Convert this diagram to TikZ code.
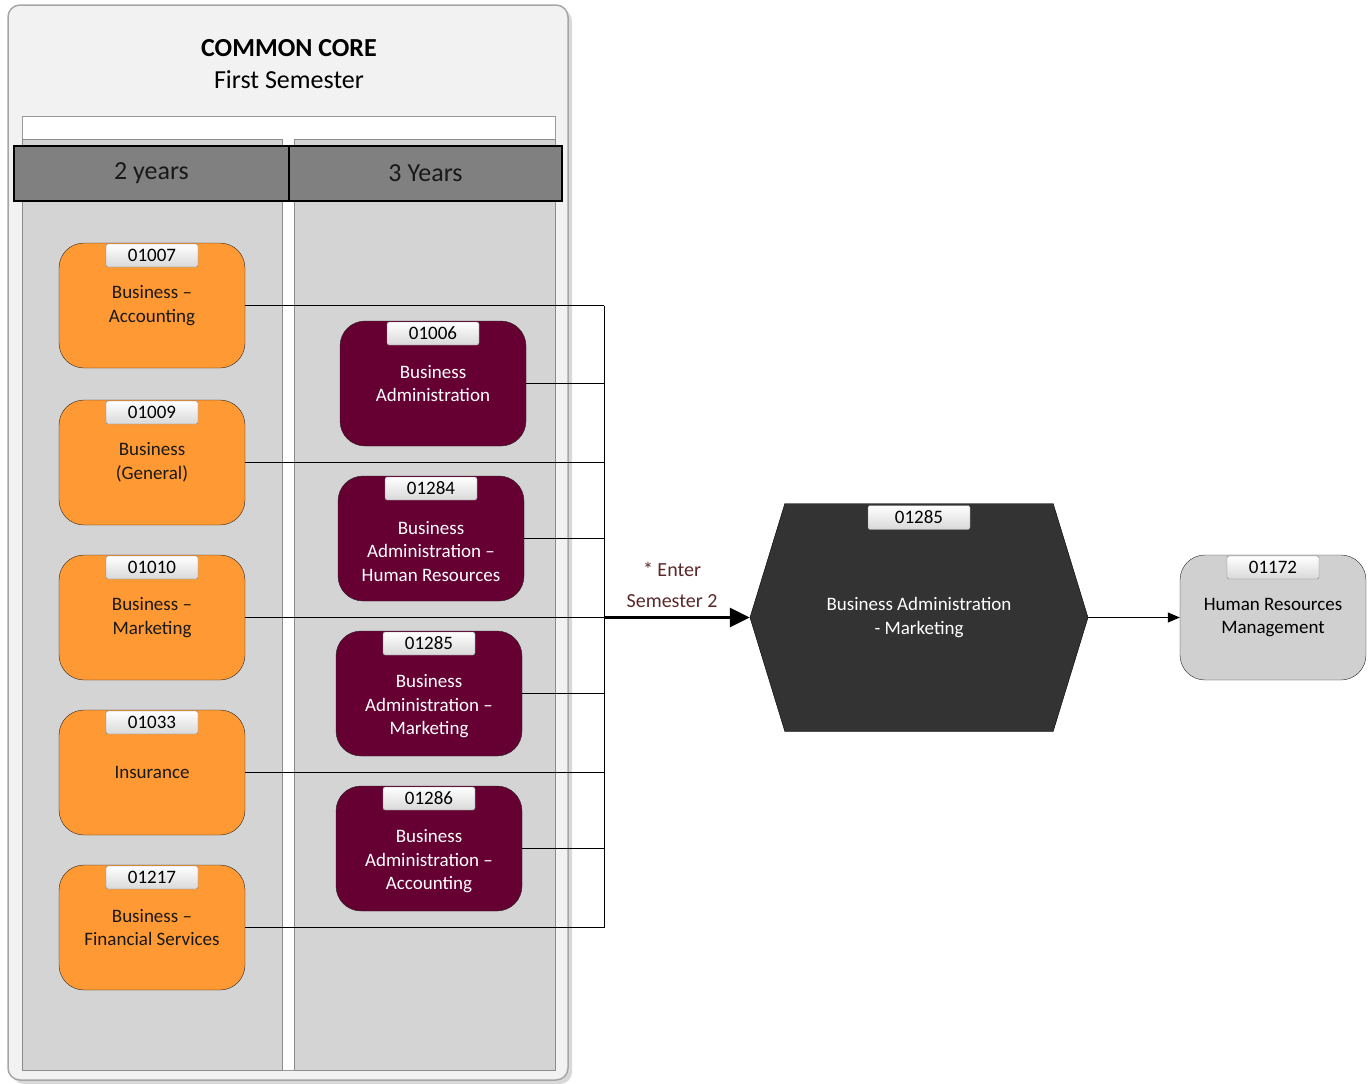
\documentclass[tikz,border=0pt]{standalone}
\usepackage{fontspec}
\setmainfont{Carlito}
\usetikzlibrary{shapes.symbols,arrows.meta}

\definecolor{orangebox}{HTML}{FF9933}
\definecolor{maroonbox}{HTML}{660033}
\definecolor{lanegray}{HTML}{D4D4D4}
\definecolor{headgray}{HTML}{808080}
\definecolor{coregray}{HTML}{F2F2F2}
\definecolor{hexgray}{HTML}{333333}
\definecolor{hrgray}{HTML}{D0D0D0}
\definecolor{notecolor}{HTML}{5A2828}

\tikzstyle{lane}=[draw=gray!90, fill=lanegray]
\tikzstyle{header}=[draw=black, line width=1.2, fill=headgray, minimum height=55, inner sep=0, font=\fontsize{26}{30}\selectfont, text=black!90]
\tikzstyle{course}=[draw=black!85, rounded corners=25, minimum width=186, minimum height=125, inner sep=0, align=center, font=\fontsize{19}{23.5}\selectfont]
\tikzstyle{twoyear}=[course, fill=orangebox, text=black!90]
\tikzstyle{threeyear}=[course, fill=maroonbox]
\tikzstyle{threetext}=[align=center, text=white, font=\fontsize{19}{23.5}\selectfont]
\tikzstyle{tab}=[draw=gray, rounded corners=2, top color=white, bottom color=gray!30, minimum width=92, minimum height=23, inner sep=0, anchor=north, text=black, font=\fontsize{19}{20}\selectfont]
\tikzstyle{link}=[black, line width=1]
\tikzstyle{arrow}=[link, -{Triangle[length=12pt, width=10pt]}]
\tikzstyle{bigarrow}=[black, line width=3, -{Triangle[length=20pt, width=19pt]}]

\begin{document}
\begin{tikzpicture}[x=1pt, y=-1pt]
    \useasboundingbox (0,0) rectangle (1371,1084);

    \fill[gray!30, rounded corners=12] (12,9) rectangle (572,1084);
    \draw[gray!70, fill=coregray, line width=1.5, rounded corners=12] (8,5) rectangle (568,1080);
    \node[font=\fontsize{26}{30}\selectfont\bfseries] (core) at (289,48) {COMMON CORE};
    \node[font=\fontsize{26}{30}\selectfont] (sem) at (289,80) {First Semester};

    \draw[gray!80, fill=white] (22,116) rectangle (555,1070);
    \draw[lane] (22,139) rectangle (282,1070);
    \draw[lane] (294,139) rectangle (555,1070);
    \node[header, minimum width=275] (two) at (151.5,173.5) {\raisebox{-2pt}{2 years}};
    \node[header, minimum width=273] (three) at (425.5,173.5) {3 Years};

    \node[twoyear] (acc) at (152,305.5) {Business --\\Accounting};
    \node[twoyear] (gen) at (152,462.5) {Business\\(General)};
    \node[twoyear] (mkt) at (152,617.5) {Business --\\Marketing};
    \node[twoyear] (ins) at (152,772.5) {Insurance};
    \node[twoyear] (fin) at (152,927.5) {Business --\\Financial Services};
    \node[tab] (acc-tab) at ([yshift=-1]acc.north) {01007};
    \node[tab] (gen-tab) at ([yshift=-1]gen.north) {01009};
    \node[tab] (mkt-tab) at ([yshift=-1]mkt.north) {01010};
    \node[tab] (ins-tab) at ([yshift=-1]ins.north) {01033};
    \node[tab] (fin-tab) at ([yshift=-1]fin.north) {01217};

    \node[threeyear, text=white] (adm) at (433,383.5) {Business\\Administration};
    \node[threeyear] (hr) at (431,538.5) {};
    \node[threeyear] (bam) at (429,693.5) {};
    \node[threeyear] (baa) at (429,848.5) {};
    \node[threetext] (hr-txt) at ([yshift=-13]hr.center) {Business\\Administration --\\Human Resources};
    \node[threetext] (bam-txt) at ([yshift=-13]bam.center) {Business\\Administration --\\Marketing};
    \node[threetext] (baa-txt) at ([yshift=-13]baa.center) {Business\\Administration --\\Accounting};
    \node[tab] (adm-tab) at ([yshift=-1]adm.north) {01006};
    \node[tab] (hr-tab) at ([yshift=-1]hr.north) {01284};
    \node[tab] (bam-tab) at ([yshift=-1]bam.north) {01285};
    \node[tab] (baa-tab) at ([yshift=-1]baa.north) {01286};

    \node[shape=signal, signal to=east and west, signal pointer angle=146, draw=black, fill=hexgray,
      minimum width=338, minimum height=228, inner sep=0, align=center, text=white,
      font=\fontsize{19}{23.5}\selectfont] (hex) at (919,617.5) {Business Administration\\- Marketing};
    \node[tab, minimum width=102, minimum height=24] (hex-tab) at ([yshift=-2]hex.north) {01285};

    \node[course, fill=hrgray] (hrm) at (1273,617.5) {Human Resources\\Management};
    \node[tab] (hrm-tab) at ([yshift=-1]hrm.north) {01172};

    \coordinate (bus) at (604,617.5);
    \draw[link] (acc.east) -- (acc.east -| bus);
    \draw[link] (adm.east) -- (adm.east -| bus);
    \draw[link] (gen.east) -- (gen.east -| bus);
    \draw[link] (hr.east) -- (hr.east -| bus);
    \draw[link] (mkt.east) -- (mkt.east -| bus);
    \draw[link] (bam.east) -- (bam.east -| bus);
    \draw[link] (ins.east) -- (ins.east -| bus);
    \draw[link] (baa.east) -- (baa.east -| bus);
    \draw[link] (fin.east) -- (fin.east -| bus);
    \draw[link] (acc.east -| bus) -- (fin.east -| bus);

    \draw[bigarrow] (bus) -- (hex.west);
    \node[align=center, text=notecolor, font=\fontsize{20}{31}\selectfont] (note) at (672,584.5) {* Enter\\Semester 2};
    \draw[arrow] (hex.east) -- (hrm.west);
\end{tikzpicture}
\end{document}
